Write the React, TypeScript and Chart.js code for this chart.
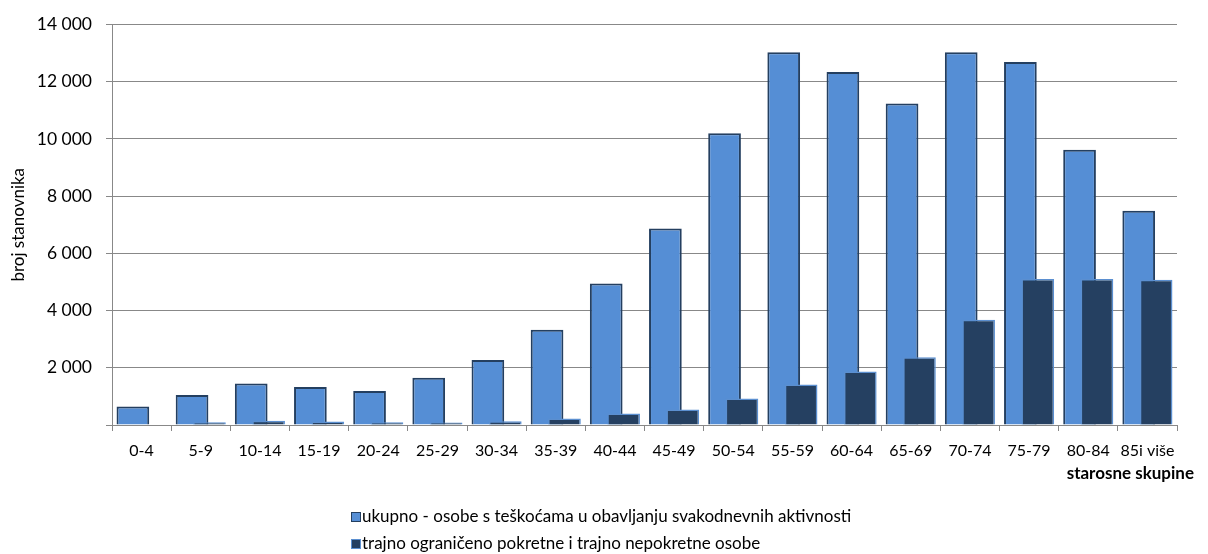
import React, { useEffect, useRef } from 'react';
import { Chart, registerables } from 'chart.js';

Chart.register(...registerables);

const categories = ['0-4', '5-9', '10-14', '15-19', '20-24', '25-29', '30-34', '35-39', '40-44', '45-49', '50-54', '55-59', '60-64', '65-69', '70-74', '75-79', '80-84', '85i više'];
const totalDifficulties = [650, 1050, 1450, 1330, 1190, 1650, 2270, 3330, 4950, 6870, 10200, 13030, 12340, 11240, 13030, 12690, 9620, 7490];
const mobilityLimited = [20, 95, 145, 120, 95, 90, 130, 230, 400, 540, 930, 1420, 1870, 2365, 3675, 5100, 5100, 5080];
const seriesLabels = [
  'ukupno - osobe s teškoćama u obavljanju svakodnevnih aktivnosti',
  'trajno ograničeno pokretne i trajno nepokretne osobe',
];
const yTicks = [0, 2000, 4000, 6000, 8000, 10000, 12000, 14000];
const yAxisTitle = 'broj stanovnika';
const xAxisTitle = 'starosne skupine';

const FONT = 'Lato';

const formatThousands = (v: number) =>
  v === 0 ? '' : String(v).replace(/\B(?=(\d{3})+(?!\d))/g, ' ');

const overlayPlugin = {
  id: 'overlayOrderAndLegend',
  beforeDatasetDraw(chart: any, args: any) {
    if (args.index === 1) return false;
    return true;
  },
  afterDatasetsDraw(chart: any) {
    const meta = chart.getDatasetMeta(1);
    if (chart.isDatasetVisible(1)) {
      chart.ctx.save();
      meta.controller.draw();
      chart.ctx.restore();
    }
  },
  afterDraw(chart: any) {
    const { ctx, chartArea } = chart;
    ctx.save();
    ctx.fillStyle = '#000';
    ctx.font = `bold 17px ${FONT}`;
    ctx.textAlign = 'right';
    ctx.textBaseline = 'alphabetic';
    ctx.fillText(xAxisTitle, chartArea.right + 17, chartArea.bottom + 54);

    ctx.font = `17px ${FONT}`;
    ctx.textAlign = 'left';
    ctx.textBaseline = 'middle';
    const rowY = [chartArea.bottom + 92, chartArea.bottom + 119];
    chart.data.datasets.forEach((ds: any, i: number) => {
      const y = Math.round(rowY[i]);
      const bx = 351;
      ctx.fillStyle = ds.backgroundColor;
      ctx.fillRect(bx, y - 5, 10, 10);
      ctx.strokeStyle = ds.borderColor;
      ctx.lineWidth = 1;
      ctx.strokeRect(bx + 0.5, y - 4.5, 9, 9);
      ctx.fillStyle = '#000';
      ctx.fillText(ds.label, bx + 11, y);
    });
    ctx.restore();
  },
};

export default function App() {
  const ref = useRef<HTMLCanvasElement>(null);
  useEffect(() => {
    document.body.style.margin = '0';
    const canvas = ref.current!;
    const chart = new Chart(canvas, {
      type: 'bar',
      data: {
        labels: categories,
        datasets: [
          {
            label: seriesLabels[0],
            data: totalDifficulties,
            backgroundColor: '#558ED5',
            borderColor: '#243F60',
            borderWidth: 2,
          },
          {
            label: seriesLabels[1],
            data: mobilityLimited,
            backgroundColor: '#254061',
            borderColor: '#5B8FD0',
            borderWidth: 1.5,
          },
        ],
      },
      options: {
        responsive: false,
        animation: false,
        layout: { padding: { left: 0, right: 31, top: 22, bottom: 69 } },
        datasets: { bar: { categoryPercentage: 0.588, barPercentage: 1.88 } },
        plugins: { legend: { display: false }, tooltip: { enabled: false } },
        scales: {
          x: {
            offset: true,
            grid: { offset: true, drawOnChartArea: false, drawTicks: true, tickLength: 6, color: '#888888', lineWidth: 1 },
            border: { color: '#888888', width: 1 },
            ticks: { font: { family: FONT, size: 16 }, color: '#000', padding: 10, maxRotation: 0, autoSkip: false },
            afterFit: (s: any) => { s.height = 60; },
          },
          y: {
            min: 0,
            max: 14000,
            afterBuildTicks: (s: any) => { s.ticks = yTicks.map((v) => ({ value: v })); },
            ticks: {
              callback: (v: any) => formatThousands(Number(v)),
              font: { family: FONT, size: 17.5 },
              color: '#000',
              padding: 14,
            },
            grid: { color: '#888888', tickLength: 6, lineWidth: 1 },
            border: { color: '#888888', width: 1 },
            title: {
              display: true,
              text: yAxisTitle,
              font: { family: FONT, size: 17 },
              color: '#000',
              padding: { top: 8, bottom: 0 },
            },
            afterFit: (s: any) => { s.width = 112; },
          },
        },
      },
      plugins: [overlayPlugin],
    } as any);
    return () => chart.destroy();
  }, []);
  return (
    <div style={{ width: 1208, height: 554 }}>
      <canvas ref={ref} width={1208} height={554} style={{ display: 'block', width: 1208, height: 554 }} />
    </div>
  );
}
